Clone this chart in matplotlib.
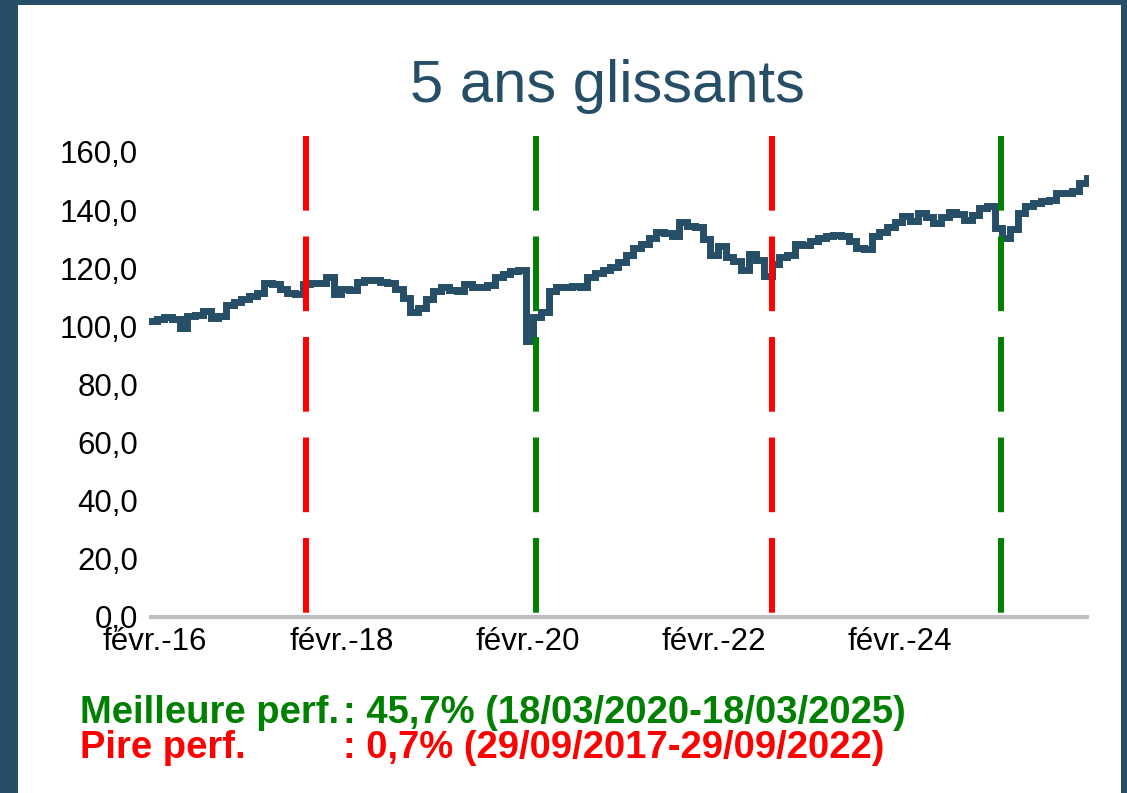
import numpy as np
import pandas as pd
import matplotlib
matplotlib.use("Agg")
from matplotlib import pyplot as plt
from matplotlib.patches import Rectangle

plt.rcParams['font.family'] = ['Liberation Sans', 'DejaVu Sans']

# monthly readings of the 5-year rolling index, Jan 2016 -> Feb 2026
values = [
    102.0, 102.5, 103.3, 102.5, 99.5, 103.5, 104.0, 105.3, 103.0, 103.5,
    107.4, 108.5, 109.4, 110.5, 111.5, 115.0, 114.5, 113.0, 111.5, 111.2,
    114.5, 114.8, 115.0, 117.0, 111.0, 113.0, 112.5, 115.3, 116.0, 116.0,
    115.4, 115.0, 113.0, 109.8, 104.8, 106.3, 109.5, 112.0, 113.5, 112.5,
    112.0, 114.5, 113.7, 113.7, 114.2, 117.0, 118.0, 119.0, 119.5, 95.0,
    103.3, 105.0, 112.0, 113.7, 113.7, 113.9, 113.5, 117.0, 118.5, 119.5,
    120.5, 122.0, 124.5, 127.0, 128.5, 130.5, 132.6, 132.0, 131.0, 136.0,
    134.5, 134.3, 130.0, 124.5, 127.5, 124.0, 122.5, 119.5, 125.0, 123.0,
    117.5, 121.5, 124.0, 124.5, 128.5, 128.0, 129.5, 130.5, 131.0, 131.4,
    131.2, 129.5, 127.0, 126.5, 131.0, 132.6, 134.3, 135.8, 138.0, 136.2,
    139.0, 137.5, 135.5, 137.5, 139.5, 138.5, 136.5, 138.3, 140.8, 141.5,
    134.0, 130.5, 133.5, 139.0, 141.5, 142.5, 143.0, 143.5, 146.0, 146.0,
    146.5, 149.5, 151.0,
]
dates = pd.date_range('2016-01-22', '2026-02-17', periods=len(values))

best_dates = ['2020-03-18', '2025-03-18']
worst_dates = ['2017-09-29', '2022-09-29']

tick_dates = ['2016-02-15', '2018-02-15', '2020-02-15', '2022-02-15', '2024-02-15']
tick_labels = ['févr.-16', 'févr.-18', 'févr.-20', 'févr.-22', 'févr.-24']
y_ticks = [0, 20, 40, 60, 80, 100, 120, 140, 160]

title = '5 ans glissants'
best_label, best_text = 'Meilleure perf.', ': 45,7% (18/03/2020-18/03/2025)'
worst_label, worst_text = 'Pire perf.', ': 0,7% (29/09/2017-29/09/2022)'

navy = '#264e67'
green = '#008000'
red = '#ff0000'

W, H = 1127, 793
fig = plt.figure(figsize=(W / 100, H / 100), dpi=100, facecolor=navy)
fig.patches.append(Rectangle((18 / W, 0), (1121 - 18) / W, (H - 5) / H,
                             transform=fig.transFigure, facecolor='white',
                             edgecolor='none', zorder=-5))

ax = fig.add_axes([149 / W, 1 - 617 / H, (1089 - 149) / W, (617 - 136) / H])
ax.set_facecolor('none')
ax.set_zorder(2)
ytop = 165.5

ax.plot(dates, values, color=navy, lw=5, drawstyle='steps-post',
        solid_joinstyle='miter', zorder=2)

for d in best_dates:
    ax.plot([pd.Timestamp(d)] * 2, [ytop, 0], color=green, lw=4.3,
            linestyle=(0, (12.5, 4.33)), dash_capstyle='butt', zorder=3)
for d in worst_dates:
    ax.plot([pd.Timestamp(d)] * 2, [ytop, 0], color=red, lw=4.3,
            linestyle=(0, (12.5, 4.33)), dash_capstyle='butt', zorder=3)

ax.set_ylim(0, ytop)
ax.set_xlim(pd.Timestamp('2016-01-22'), pd.Timestamp('2026-02-25'))
ax.set_yticks(y_ticks)
ax.set_yticklabels([f'{v:.1f}'.replace('.', ',') for v in y_ticks])
ax.set_xticks([pd.Timestamp(d) for d in tick_dates])
ax.set_xticklabels(tick_labels)
ax.tick_params(axis='both', length=0, labelsize=22.5, colors='black')
ax.tick_params(axis='y', pad=8)
ax.tick_params(axis='x', pad=7)

for s in ['top', 'right', 'left']:
    ax.spines[s].set_visible(False)
ax.spines['bottom'].set_color('#bfbfbf')
ax.spines['bottom'].set_linewidth(3)
ax.spines['bottom'].set_capstyle('butt')

fig.text(607 / W, 1 - 86 / H, title, ha='center', va='center',
         fontsize=43, color=navy)

colon_x = 343 / W
fig.text(80 / W, 1 - 723 / H, best_label, ha='left', va='baseline',
         fontsize=27.5, fontweight='bold', color=green)
fig.text(colon_x, 1 - 723 / H, best_text, ha='left', va='baseline',
         fontsize=27.5, fontweight='bold', color=green)
fig.text(80 / W, 1 - 758 / H, worst_label, ha='left', va='baseline',
         fontsize=27.5, fontweight='bold', color=red)
fig.text(colon_x, 1 - 758 / H, worst_text, ha='left', va='baseline',
         fontsize=27.5, fontweight='bold', color=red)

fig.savefig('out.png', dpi=100, facecolor=navy)
